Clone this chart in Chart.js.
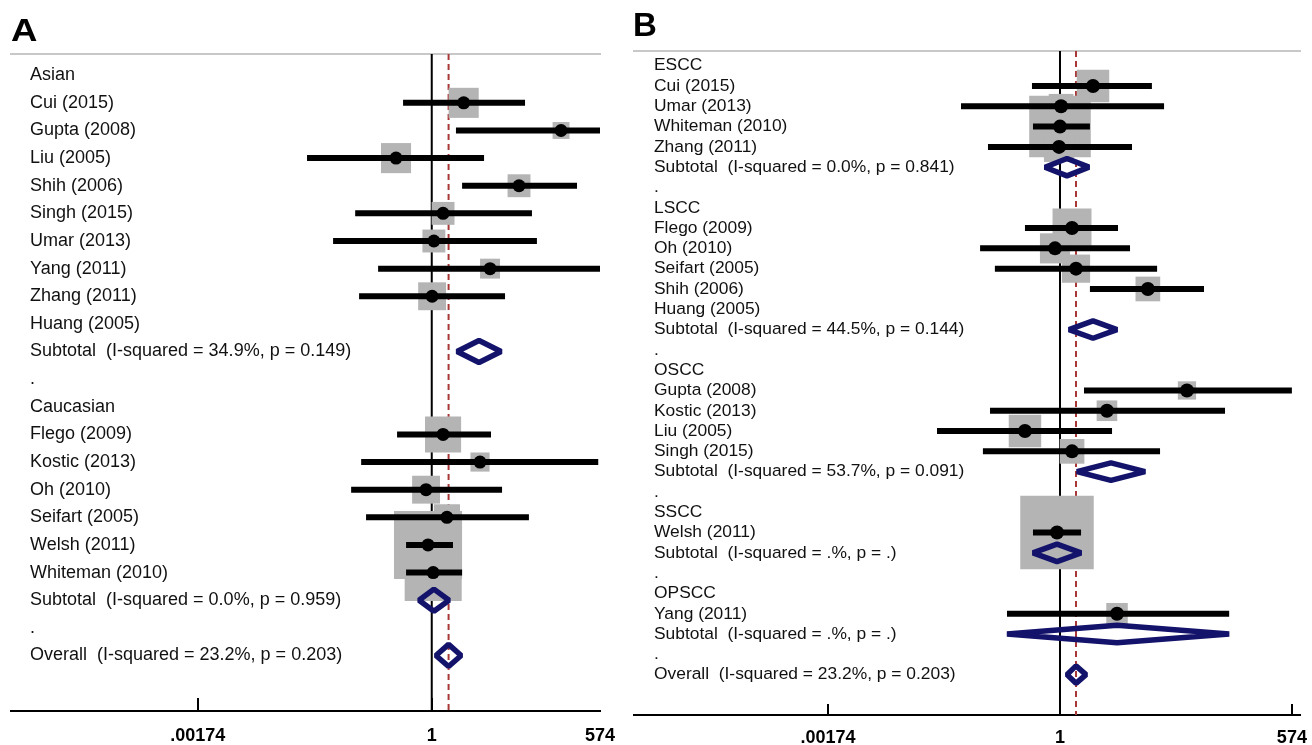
<!DOCTYPE html>
<html>
<head>
<meta charset="utf-8">
<script src="https://cdn.jsdelivr.net/npm/chart.js@4.4.1/dist/chart.umd.min.js"></script>
<style>
  body { margin: 0; background: #fff; width: 1312px; height: 745px; overflow: hidden; position: relative; }
  .box { position: absolute; top: 0; height: 745px; }
  #boxA { left: 0; width: 620px; }
  #boxB { left: 620px; width: 692px; }
  .tag { position: absolute; font-family: "Liberation Sans", Arial, sans-serif; font-weight: bold; color: #000; line-height: 1; transform-origin: left top; }
</style>
</head>
<body>
<div class="box" id="boxA"><canvas id="chartA"></canvas></div>
<div class="box" id="boxB"><canvas id="chartB"></canvas></div>
<div class="tag" style="left:11px;top:15px;font-size:31px;transform:scaleX(1.18)">A</div>
<div class="tag" style="left:633px;top:8px;font-size:33px">B</div>
<script>
// Panel A : ethnicity subgroups (OR, 95% CI, weight %)
const labelsA = ["Asian", "Cui (2015)", "Gupta (2008)", "Liu (2005)", "Shih (2006)", "Singh (2015)",
  "Umar (2013)", "Yang (2011)", "Zhang (2011)", "Huang (2005)",
  "Subtotal  (I-squared = 34.9%, p = 0.149)", ".", "Caucasian", "Flego (2009)", "Kostic (2013)",
  "Oh (2010)", "Seifart (2005)", "Welsh (2011)", "Whiteman (2010)",
  "Subtotal  (I-squared = 0.0%, p = 0.959)", ".", "Overall  (I-squared = 23.2%, p = 0.203)"];
const kindA   = ["", "s", "s", "s", "s", "s", "s", "s", "s", "", "p", "", "", "s", "s", "s", "s", "s", "s", "p", "", "p"];
const orA     = [null, 2.38, 33.5, 0.379, 10.7, 1.36, 1.06, 4.87, 1.01, null, 3.61, null, null, 1.36, 3.71, 0.857, 1.51, 0.904, 1.04, 1.06, null, 1.58];
const lowA    = [null, 0.459, 1.93, 0.0338, 2.28, 0.125, 0.0686, 0.233, 0.139, null, 1.99, null, null, 0.390, 0.147, 0.112, 0.168, 0.498, 0.498, 0.708, null, 1.12];
const highA   = [null, 12.6, 574, 4.14, 51.7, 15.2, 17.4, 103, 7.32, null, 6.57, null, null, 5.00, 92, 6.75, 14.0, 1.78, 2.28, 1.60, null, 2.22];
const weightA = [null, 5.7, 1.8, 5.7, 3.3, 3.3, 3.3, 2.5, 4.9, null, null, null, null, 8.2, 2.3, 4.9, 4.3, 29.2, 20.5, null, null, null];

// Panel B : histology subgroups
const labelsB = ["ESCC", "Cui (2015)", "Umar (2013)", "Whiteman (2010)", "Zhang (2011)",
  "Subtotal  (I-squared = 0.0%, p = 0.841)", ".", "LSCC", "Flego (2009)", "Oh (2010)", "Seifart (2005)",
  "Shih (2006)", "Huang (2005)", "Subtotal  (I-squared = 44.5%, p = 0.144)", ".", "OSCC",
  "Gupta (2008)", "Kostic (2013)", "Liu (2005)", "Singh (2015)",
  "Subtotal  (I-squared = 53.7%, p = 0.091)", ".", "SSCC", "Welsh (2011)",
  "Subtotal  (I-squared = .%, p = .)", ".", "OPSCC", "Yang (2011)",
  "Subtotal  (I-squared = .%, p = .)", ".", "Overall  (I-squared = 23.2%, p = 0.203)"];
const kindB   = ["", "s", "s", "s", "s", "p", "", "", "s", "s", "s", "s", "", "p", "", "", "s", "s", "s", "s", "p", "", "", "s", "p", "", "", "s", "p", "", "p"];
const orB     = [null, 2.47, 1.03, 1.00, 0.973, 1.21, null, null, 1.39, 0.872, 1.55, 11.1, null, 2.47, null, null, 32.4, 3.62, 0.383, 1.39, 4.04, null, null, 0.921, 0.921, null, null, 4.77, 4.77, null, 1.55];
const lowB    = [null, 0.464, 0.0664, 0.477, 0.139, 0.663, null, null, 0.383, 0.112, 0.168, 2.27, null, 1.28, null, null, 1.93, 0.147, 0.0344, 0.121, 1.59, null, null, 0.477, 0.477, null, null, 0.234, 0.234, null, 1.21];
const highB   = [null, 12.4, 17.3, 2.27, 7.19, 2.21, null, null, 4.90, 6.81, 14.3, 51.7, null, 4.77, null, null, 574, 91.9, 4.16, 15.5, 10.3, null, null, 1.78, 1.78, null, null, 103, 103, null, 2.04];
const weightB = [null, 5.7, 3.3, 20.5, 4.9, null, null, null, 8.2, 4.9, 4.3, 3.3, null, null, null, null, 1.8, 2.3, 5.7, 3.3, null, null, null, 29.2, null, null, null, 2.5, null, null, null];

const xTicks = [0.00174, 1, 574];
const xTickLabels = [".00174", "1", "574"];

const FONT = "'Liberation Sans', Arial, sans-serif";
const NAVY = "#13136b";
const BOXGREY = "#b4b4b4";
const REDDASH = "#a83838";

// no automatic label padding: the plot area is set by layout.padding only
function noPad(s) {
  s.paddingLeft = 0; s.paddingRight = 0; s.paddingTop = 0; s.paddingBottom = 0;
}

function forest(id, p) {
  const rows = p.labels.map((_, i) => i);
  const ci = [], boxes = [], boxR = [], dots = [], dia = [];
  rows.forEach(i => {
    if (p.kind[i] === "s") {
      ci.push({ x: p.low[i], y: i }, { x: p.high[i], y: i }, { x: null, y: null });
      boxes.push({ x: p.est[i], y: i });
      boxR.push(p.boxScale * Math.sqrt(p.weight[i]) / Math.SQRT2);
      dots.push({ x: p.est[i], y: i });
    } else if (p.kind[i] === "p") {
      const h = p.dh;
      dia.push({ x: p.low[i], y: i }, { x: p.est[i], y: i - h }, { x: p.high[i], y: i },
        { x: p.est[i], y: i + h }, { x: p.low[i], y: i }, { x: p.est[i], y: i - h },
        { x: null, y: null });
    }
  });
  const overall = p.est[p.est.length - 1];

  const datasets = [
    { data: dots, pointStyle: "circle", pointRadius: p.dotR, backgroundColor: "#000", borderWidth: 0, order: 0 },
    { data: ci, showLine: true, borderColor: "#000", borderWidth: 6, pointRadius: 0, borderCapStyle: "butt", clip: 0, order: 1 },
    { data: dia, showLine: true, borderColor: NAVY, borderWidth: 5.5, pointRadius: 0, borderJoinStyle: "bevel", order: 2 },
    { data: boxes, pointStyle: "rect", pointRadius: boxR, backgroundColor: BOXGREY, borderWidth: 0, order: 3 },
    { data: [{ x: overall, y: p.yMin }, { x: overall, y: p.yMax }], showLine: true, borderColor: REDDASH,
      borderWidth: 2, borderDash: [6, 4], pointRadius: 0, order: 4 },
    { data: [{ x: 1, y: p.yMin }, { x: 1, y: p.yMax }], showLine: true, borderColor: "#000",
      borderWidth: 2, pointRadius: 0, order: 5 }
  ];

  new Chart(document.getElementById(id), {
    type: "scatter",
    data: { datasets },
    options: {
      responsive: true,
      maintainAspectRatio: false,
      animation: false,
      events: [],
      layout: { padding: p.pad, autoPadding: false },
      plugins: { legend: { display: false }, tooltip: { enabled: false } },
      scales: {
        x: {
          type: "logarithmic",
          min: p.xMin,
          max: p.xMax,
          afterBuildTicks: s => { s.ticks = p.ticks.map(v => ({ value: v })); },
          afterFit: s => { s.height = p.xHeight; noPad(s); },
          ticks: {
            autoSkip: false, maxRotation: 0, color: "#000", padding: p.tickPad,
            font: { family: FONT, size: 18, weight: "bold" },
            callback: (v, i) => p.tickLabels[i]
          },
          grid: {
            display: true, drawOnChartArea: false, drawTicks: true, tickLength: -p.tickLen, lineWidth: 2,
            color: c => (p.tickMark[c.index] ? "#000" : "rgba(0,0,0,0)")
          },
          border: { display: true, color: "#000", width: 2 }
        },
        x2: {
          type: "logarithmic",
          position: "top",
          min: p.xMin,
          max: p.xMax,
          afterFit: s => { s.height = 0; noPad(s); },
          ticks: { display: false },
          grid: { display: false },
          border: { display: true, color: "#c8c8c8", width: 2 }
        },
        y: {
          type: "linear",
          reverse: true,
          min: p.yMin,
          max: p.yMax,
          afterBuildTicks: s => { s.ticks = rows.map(v => ({ value: v })); },
          afterFit: s => { s.width = 0; noPad(s); },
          ticks: {
            mirror: true, autoSkip: false, padding: p.labelPad, color: "#111",
            font: { family: FONT, size: p.labelSize },
            callback: v => p.labels[v]
          },
          grid: { display: false },
          border: { display: false }
        }
      }
    }
  });
}

forest("chartA", {
  labels: labelsA, kind: kindA, est: orA, low: lowA, high: highA, weight: weightA,
  xMin: 1.09e-5, xMax: 96.5, yMin: -0.768, yMax: 23.01,
  ticks: [xTicks[0], xTicks[1], 96.5], tickLabels: xTickLabels, tickMark: [true, true, false],
  pad: { left: 11, right: 20, top: 54, bottom: 0 }, xHeight: 34, tickLen: 13, tickPad: 27,
  labelPad: 19, labelSize: 18, boxScale: 12.6, dotR: 6.5, dh: 0.4
});

forest("chartB", {
  labels: labelsB, kind: kindB, est: orB, low: lowB, high: highB, weight: weightB,
  xMin: 8.54e-6, xMax: 717, yMin: -0.724, yMax: 31.99,
  ticks: xTicks, tickLabels: xTickLabels, tickMark: [true, true, true],
  pad: { left: 14, right: 12, top: 51, bottom: 0 }, xHeight: 30, tickLen: 11, tickPad: 23,
  labelPad: 20, labelSize: 17.4, boxScale: 13.6, dotR: 7, dh: 0.43
});
</script>
</body>
</html>
